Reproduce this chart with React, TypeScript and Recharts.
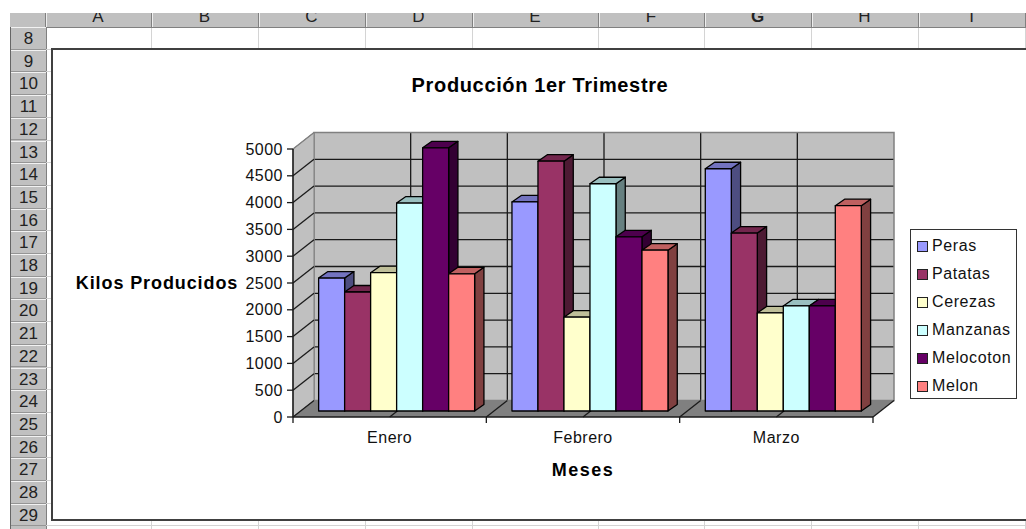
import React from 'react';
import { BarChart, Bar, XAxis, YAxis, CartesianGrid, Legend } from 'recharts';

const MONTHS = ['Enero', 'Febrero', 'Marzo'];
const PERAS = [2480, 3900, 4520];
const PATATAS = [2220, 4660, 3320];
const CEREZAS = [2580, 1750, 1830];
const MANZANAS = [3880, 4240, 1960];
const MELOCOTON = [4910, 3250, 1960];
const MELON = [2560, 3000, 3830];
const Y_TICKS = [0, 500, 1000, 1500, 2000, 2500, 3000, 3500, 4000, 4500, 5000];

const SERIES = [
  { name: 'Peras', values: PERAS, color: '#9999ff' },
  { name: 'Patatas', values: PATATAS, color: '#993366' },
  { name: 'Cerezas', values: CEREZAS, color: '#ffffcc' },
  { name: 'Manzanas', values: MANZANAS, color: '#ccffff' },
  { name: 'Melocoton', values: MELOCOTON, color: '#660066' },
  { name: 'Melon', values: MELON, color: '#ff8080' },
];

const chartData = MONTHS.map((month, i) => {
  const row: Record<string, string | number> = { month };
  SERIES.forEach((s) => {
    row[s.name] = s.values[i];
  });
  return row;
});

const ROW_NUMBERS = [8, 9, 10, 11, 12, 13, 14, 15, 16, 17, 18, 19, 20, 21, 22, 23, 24, 25, 26, 27, 28, 29];
const COLUMNS = ['A', 'B', 'C', 'D', 'E', 'F', 'G', 'H', 'I'];
const COLUMN_EDGES = [45, 151, 258, 365, 472, 598, 704, 811, 918, 1025];

const FONT = '"Liberation Sans", Arial, sans-serif';
const W = 1026;
const H = 529;
const PLOT = { left: 293, right: 873, top: 149, bottom: 417 };
const WALL_DX = 21;
const WALL_DY = -16.5;
const BAR_SHIFT_X = 6.3;
const BAR_SHIFT_Y = -6;
const BAR_DX = 9.3;
const BAR_DY = -6.5;
const ROW_TOP = 27;
const ROW_H = 22.7;

const plotW = PLOT.right - PLOT.left;
const plotH = PLOT.bottom - PLOT.top;
const wallHorizontal = Y_TICKS.slice(1, -1).map((t) => PLOT.bottom + WALL_DY - (plotH * t) / 5000);
const wallVertical = [1, 2, 3, 4, 5].map((i) => PLOT.left + WALL_DX + (i * plotW) / 6);

const shade = (hex: string, f: number) => {
  const n = parseInt(hex.slice(1), 16);
  const c = [(n >> 16) & 255, (n >> 8) & 255, n & 255].map((v) => Math.round(v * f));
  return `rgb(${c[0]},${c[1]},${c[2]})`;
};

// Excel style column: front face plus top and side faces
const Bar3D = (props: any) => {
  const { x, y, width, height, fill } = props;
  const l = x + BAR_SHIFT_X;
  const r = l + width;
  const t = y + BAR_SHIFT_Y;
  const b = t + height;
  const stroke = { stroke: '#000', strokeWidth: 1.3, strokeLinejoin: 'round' as const };
  return (
    <g>
      <polygon
        points={`${r},${t} ${r + BAR_DX},${t + BAR_DY} ${r + BAR_DX},${b + BAR_DY} ${r},${b}`}
        fill={shade(fill, 0.5)}
        {...stroke}
      />
      <polygon
        points={`${l},${t} ${l + BAR_DX},${t + BAR_DY} ${r + BAR_DX},${t + BAR_DY} ${r},${t}`}
        fill={shade(fill, 0.75)}
        {...stroke}
      />
      <rect x={l} y={t} width={width} height={height} fill={fill} {...stroke} />
    </g>
  );
};

// back wall fill comes from CartesianGrid, only its outline is drawn here
const Walls = () => {
  const { left, right, top, bottom } = PLOT;
  return (
    <g>
      <polygon
        points={`${left + WALL_DX},${top + WALL_DY} ${right + WALL_DX},${top + WALL_DY} ${right + WALL_DX},${bottom + WALL_DY} ${left + WALL_DX},${bottom + WALL_DY}`}
        fill="none"
        stroke="#808080"
        strokeWidth={1.5}
      />
      <polygon
        points={`${left},${top} ${left + WALL_DX},${top + WALL_DY} ${left + WALL_DX},${bottom + WALL_DY} ${left},${bottom}`}
        fill="#c0c0c0"
        stroke="#808080"
        strokeWidth={1}
      />
      <polygon
        points={`${left},${bottom} ${right},${bottom} ${right + WALL_DX},${bottom + WALL_DY} ${left + WALL_DX},${bottom + WALL_DY}`}
        fill="#808080"
      />
    </g>
  );
};

// diagonals on side wall and floor, plus the category ticks below the axis
const Diagonals = () => {
  const { left, right, top, bottom } = PLOT;
  const band = (right - left) / MONTHS.length;
  const half = [0, 1, 2, 3, 4, 5, 6].map((i) => left + (i * band) / 2);
  const edges = [0, 1, 2, 3].map((i) => left + i * band);
  return (
    <g stroke="#1a1a1a" strokeWidth={1.3}>
      {Y_TICKS.slice(1).map((t) => {
        const y = bottom - ((bottom - top) * t) / 5000;
        const gray = t === 5000;
        return <line key={t} x1={left} y1={y} x2={left + WALL_DX} y2={y + WALL_DY} stroke={gray ? '#808080' : '#1a1a1a'} />;
      })}
      {half.map((x) => (
        <line key={x} x1={x} y1={bottom} x2={x + WALL_DX} y2={bottom + WALL_DY} />
      ))}
      {edges.map((x) => (
        <line key={x} x1={x} y1={bottom} x2={x} y2={bottom + 6} />
      ))}
    </g>
  );
};

const LegendBox = ({ payload }: any) => (
  <div
    style={{
      boxSizing: 'border-box',
      width: 107,
      height: 170,
      background: '#fff',
      border: '1.5px solid #333',
      paddingTop: 2,
      fontFamily: FONT,
      fontSize: 16,
      letterSpacing: 0.6,
      color: '#111',
    }}
  >
    {(payload || []).map((item: any) => (
      <div key={item.value} style={{ display: 'flex', alignItems: 'center', height: 28, paddingLeft: 6 }}>
        <span
          style={{
            boxSizing: 'border-box',
            display: 'inline-block',
            width: 11,
            height: 11,
            background: item.color,
            border: '1.5px solid #222',
            marginRight: 4,
          }}
        />
        {item.value}
      </div>
    ))}
  </div>
);

const Sheet = () => (
  <div style={{ position: 'absolute', left: 0, top: 0, width: W, height: H, overflow: 'hidden', background: '#fff' }}>
    {/* column headers, the screenshot cuts their top off */}
    <div style={{ position: 'absolute', left: 10, top: 13, width: W - 10, height: 14, background: '#c0c0c0', borderBottom: '1px solid #808080', overflow: 'hidden' }}>
      {COLUMNS.map((c, i) => (
        <div
          key={c}
          style={{
            position: 'absolute',
            left: COLUMN_EDGES[i] - 10,
            width: COLUMN_EDGES[i + 1] - COLUMN_EDGES[i],
            top: -6,
            textAlign: 'center',
            fontFamily: FONT,
            fontSize: 17,
            lineHeight: '20px',
            color: '#222',
            fontWeight: c === 'G' ? 700 : 400,
          }}
        >
          {c}
        </div>
      ))}
      {COLUMN_EDGES.map((x) => (
        <div key={x} style={{ position: 'absolute', left: x - 10, top: 0, width: 1, height: 14, background: '#808080', borderRight: '1px solid #eee' }} />
      ))}
    </div>
    {/* row headers */}
    <div style={{ position: 'absolute', left: 10, top: ROW_TOP, width: 35, height: H - ROW_TOP, background: '#c0c0c0', borderLeft: '1px solid #666', borderRight: '1px solid #808080', overflow: 'hidden' }}>
      {ROW_NUMBERS.map((n, i) => (
        <div
          key={n}
          style={{
            position: 'absolute',
            left: 0,
            width: 35,
            top: i * ROW_H,
            height: ROW_H,
            boxSizing: 'border-box',
            borderTop: '1px solid #f2f2f2',
            borderBottom: '1px solid #959595',
            textAlign: 'center',
            fontFamily: FONT,
            fontSize: 17,
            lineHeight: '22px',
            color: '#222',
          }}
        >
          {n}
        </div>
      ))}
    </div>
    {/* cell gridlines */}
    {COLUMN_EDGES.slice(1).map((x) => (
      <div key={x} style={{ position: 'absolute', left: x, top: 28, width: 1, height: H - 28, background: '#d4d4d4' }} />
    ))}
    {ROW_NUMBERS.map((n, i) => (
      <div key={n} style={{ position: 'absolute', left: 46, top: ROW_TOP + (i + 1) * ROW_H - 1, width: W - 46, height: 1, background: '#d4d4d4' }} />
    ))}
    {/* chart frame runs off the right edge */}
    <div style={{ position: 'absolute', left: 51, top: 48, width: W, height: 473, boxSizing: 'border-box', background: '#fff', border: '2px solid #404040' }} />
  </div>
);

export default function App() {
  return (
    <div style={{ position: 'absolute', left: 0, top: 0, width: W, height: H, overflow: 'hidden' }}>
      <Sheet />
      <div style={{ position: 'absolute', left: 0, top: 0 }}>
        <BarChart
          width={W}
          height={H}
          data={chartData}
          margin={{ left: PLOT.left - 60, right: W - PLOT.right, top: PLOT.top, bottom: H - PLOT.bottom - 30 }}
          barCategoryGap="10%"
          barGap={0}
        >
          <CartesianGrid
            x={PLOT.left + WALL_DX}
            y={PLOT.top + WALL_DY}
            width={plotW}
            height={plotH}
            fill="#c0c0c0"
            stroke="#1a1a1a"
            strokeWidth={1.3}
            horizontalPoints={wallHorizontal}
            verticalPoints={wallVertical}
          />
          <Walls />
          <Diagonals />
          <XAxis
            dataKey="month"
            tickLine={false}
            tickMargin={9}
            height={30}
            axisLine={{ stroke: '#1a1a1a', strokeWidth: 1.5 }}
            tick={{ fill: '#111', fontSize: 16, fontFamily: FONT, letterSpacing: 0.5 }}
          />
          <YAxis
            width={60}
            domain={[0, 5000]}
            ticks={Y_TICKS}
            interval={0}
            tickSize={6}
            tickMargin={4}
            axisLine={{ stroke: '#1a1a1a', strokeWidth: 1.5 }}
            tickLine={{ stroke: '#1a1a1a', strokeWidth: 1.3 }}
            tick={{ fill: '#111', fontSize: 16, fontFamily: FONT, letterSpacing: 0.5 }}
          />
          {SERIES.map((s) => (
            <Bar key={s.name} dataKey={s.name} fill={s.color} shape={Bar3D} isAnimationActive={false} />
          ))}
          <Legend
            layout="vertical"
            align="center"
            verticalAlign="middle"
            itemSorter={null}
            content={LegendBox}
            wrapperStyle={{ position: 'absolute', left: 910, top: 229, width: 107, height: 170 }}
          />
          <text x={540} y={92} textAnchor="middle" fontFamily={FONT} fontSize={20} fontWeight={700} fill="#000" letterSpacing={0.65}>
            Producción 1er Trimestre
          </text>
          <text x={157} y={289} textAnchor="middle" fontFamily={FONT} fontSize={18} fontWeight={700} fill="#000" letterSpacing={0.9}>
            Kilos Producidos
          </text>
          <text x={583} y={476} textAnchor="middle" fontFamily={FONT} fontSize={18} fontWeight={700} fill="#000" letterSpacing={1.5}>
            Meses
          </text>
        </BarChart>
      </div>
    </div>
  );
}
